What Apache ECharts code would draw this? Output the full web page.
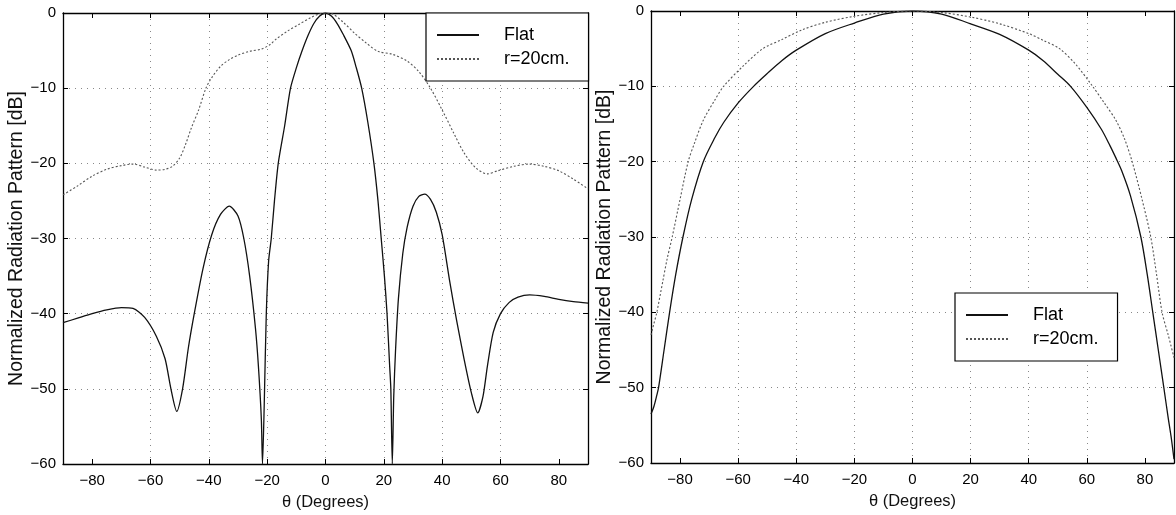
<!DOCTYPE html>
<html>
<head>
<meta charset="utf-8">
<script src="https://cdn.jsdelivr.net/npm/echarts@6/dist/echarts.min.js"></script>
<style>
  html, body { margin: 0; padding: 0; background: #fff; }
  #main { width: 1176px; height: 515px; }
</style>
</head>
<body>
<div id="main"></div>
<script>
// left panel: angle (deg) and normalized pattern (dB)
var leftFlatAng = [-90, -85, -80, -75, -70, -66, -62, -58, -55, -53, -51, -49, -47, -45, -42, -39, -36, -33, -30, -28, -26, -24, -23, -22, -21.6,
  -21, -20.3, -19.5, -18.6, -17.5, -16.2, -14, -12, -10, -8, -6, -4, -2, 0, 2, 4, 6, 8.8, 10.5, 12.4, 14.5, 16.6, 18, 19.1, 20.2, 21.1, 22, 22.4,
  22.9, 23.4, 24, 25, 26.5, 28, 30, 32, 34, 36, 38, 40, 42.5, 45, 47.5, 50, 52.2, 54, 55.5, 57.5, 60, 63, 66, 70, 75, 80, 85, 90];
var leftFlat = [-41.2, -40.6, -40.0, -39.5, -39.2, -39.3, -40.5, -43, -46, -50, -53, -50, -44.5, -40, -34, -29.5, -26.8, -25.7, -27, -30, -35, -42, -47, -54, -60,
  -52, -40, -33, -30, -25, -20, -15, -10, -7.3, -5, -3, -1.4, -0.4, 0, -0.4, -1.4, -2.8, -5, -7.2, -10, -14.5, -20, -25, -30, -35, -40, -47, -50,
  -60, -51, -45, -38, -32, -28.5, -25.7, -24.4, -24.1, -24.8, -26.5, -29.5, -35.5, -41, -46, -50.5, -53.2, -51, -47, -42.5, -40, -38.5, -37.8, -37.5, -37.7, -38.1, -38.4, -38.6];

var leftRAng = [-90, -85, -80, -75, -70, -66, -62, -58, -55, -52.5, -50, -48, -46, -43.5, -41, -39, -36, -33, -30, -26, -22, -19, -17, -13, -9, -5, -2, 0,
  2.3, 6, 10, 14, 18, 23, 28, 32, 36, 40, 44, 47.5, 51.5, 55.5, 59, 64.5, 70, 75, 80, 85, 90];
var leftR = [-24.2, -23, -21.7, -20.8, -20.3, -20.1, -20.5, -20.9, -20.8, -20.4, -19.3, -17.5, -15.3, -12.9, -10, -8.6, -7.1, -6.2, -5.6, -5.1, -4.8, -4.2, -3.5, -2.4, -1.5, -0.6, -0.1, 0,
  -0.1, -1.2, -2.7, -4, -5.1, -5.5, -6.4, -7.8, -10, -12.9, -16, -18.6, -20.6, -21.4, -21, -20.4, -20.1, -20.4, -21, -22.1, -23.4];

// right panel
var rightFlatAng = [-90, -89, -88, -87.4, -85.5, -83.6, -81.5, -79, -76, -72, -68, -65, -60, -54.7, -50, -45, -40, -30, -20, -10, 0,
  10, 20, 30, 40, 45, 50, 54.4, 60, 65, 68, 70, 72, 75, 78.6, 80.8, 82.7, 84.6, 86.5, 88, 89, 90];
var rightFlat = [-53.5, -52.5, -51, -50, -45, -40, -35, -30, -25, -20, -16.8, -14.8, -12.2, -10, -8.3, -6.6, -5.2, -3, -1.6, -0.4, 0,
  -0.4, -1.7, -3.1, -5.2, -6.6, -8.4, -10, -12.8, -15.7, -17.9, -19.5, -21.2, -24.5, -30, -35, -40, -45, -50, -54, -56.5, -59.5];

var rightRAng = [-90, -89, -88, -86, -84.5, -82.7, -80, -77.2, -75, -72, -68, -65, -58, -51.5, -45, -38, -30, -20, -10, 0,
  10, 20, 30, 40, 45, 50.6, 56, 62, 66, 70, 73, 75.6, 79, 82, 84, 85.9, 88, 89, 90];
var rightR = [-43, -41.5, -40, -36, -33, -30, -25, -20, -17.5, -14.5, -11.8, -10, -7.2, -5, -3.8, -2.5, -1.5, -0.7, -0.2, 0,
  -0.2, -0.8, -1.7, -3, -3.9, -5, -7, -10, -12.2, -14.5, -17, -20, -25, -30, -35, -40, -43, -44.5, -46];

var xTicks = [-80, -60, -40, -20, 0, 20, 40, 60, 80];

function pairs(a, v) {
  var res = [];
  for (var i = 0; i < a.length; i++) res.push([a[i], v[i]]);
  return res;
}

var myChart = echarts.init(document.getElementById("main"));
var font = "Liberation Sans";
function minus(v) { return String(v).replace("-", "\u2212"); }

function xAx(gi, pos, labels) {
  return {
    type: "value", gridIndex: gi, position: pos, min: -90, max: 90, interval: 10,
    name: labels ? "\u03b8 (Degrees)" : "", nameLocation: "middle", nameGap: 30,
    nameTextStyle: { color: "#111", fontSize: 16.5, fontFamily: font },
    axisLine: { onZero: false, lineStyle: { color: "#000", width: 1.3 } },
    axisTick: { show: true, inside: true, length: 5, lineStyle: { color: "#000" },
      customValues: xTicks },
    axisLabel: { show: labels, color: "#000", fontSize: 15, fontFamily: font, margin: 9,
      customValues: xTicks, formatter: minus },
    splitLine: { show: labels, showMinLine: false, showMaxLine: false,
      lineStyle: { color: "#888", type: [1, 5], width: 1 } }
  };
}
function yAx(gi, pos, labels) {
  return {
    type: "value", gridIndex: gi, position: pos, min: -60, max: 0, interval: 10,
    name: labels ? "Normalized Radiation Pattern [dB]" : "", nameLocation: "middle", nameGap: 34,
    nameTextStyle: { color: "#111", fontSize: 19.5, fontFamily: font },
    axisLine: { onZero: false, lineStyle: { color: "#000", width: 1.3 } },
    axisTick: { show: true, inside: true, length: 5, lineStyle: { color: "#000" } },
    axisLabel: { show: labels, color: "#000", fontSize: 15, fontFamily: font, margin: 7, formatter: minus },
    splitLine: { show: labels, showMinLine: false, showMaxLine: false,
      lineStyle: { color: "#888", type: [1, 5], width: 1 } }
  };
}

function legendBox(left, top) {
  return {
    left: left, top: top, orient: "vertical",
    data: ["Flat", "r=20cm."],
    backgroundColor: "#fff", borderColor: "#000", borderWidth: 1.2,
    padding: [13, 19, 13, 10], itemGap: 6,
    itemWidth: 42, itemHeight: 10,
    itemStyle: { opacity: 0 },
    textStyle: { color: "#000", fontSize: 18, fontFamily: font, padding: [0, 0, 0, 20] }
  };
}

var flatStyle = { color: "#111", width: 1.3, type: "solid" };
var rStyle = { color: "#555", width: 1.1, type: [2, 2] };

option = {
  animation: false,
  backgroundColor: "#fff",
  grid: [
    { left: 63, top: 13, width: 525, height: 451, outerBoundsMode: "none", containLabel: false },
    { left: 651, top: 11, width: 523, height: 452, outerBoundsMode: "none", containLabel: false }
  ],
  xAxis: [xAx(0, "bottom", true), xAx(0, "top", false), xAx(1, "bottom", true), xAx(1, "top", false)],
  yAxis: [yAx(0, "left", true), yAx(0, "right", false), yAx(1, "left", true), yAx(1, "right", false)],
  legend: [legendBox(426, 13), legendBox(955, 293)],
  series: [
    { name: "Flat", type: "line", xAxisIndex: 0, yAxisIndex: 0, data: pairs(leftFlatAng, leftFlat),
      symbol: "none", smooth: 0.25, lineStyle: flatStyle, itemStyle: { color: "#111" } },
    { name: "r=20cm.", type: "line", xAxisIndex: 0, yAxisIndex: 0, data: pairs(leftRAng, leftR),
      symbol: "none", smooth: 0.3, lineStyle: rStyle, itemStyle: { color: "#555" } },
    { name: "Flat", type: "line", xAxisIndex: 2, yAxisIndex: 2, data: pairs(rightFlatAng, rightFlat),
      symbol: "none", smooth: 0.3, lineStyle: flatStyle, itemStyle: { color: "#111" } },
    { name: "r=20cm.", type: "line", xAxisIndex: 2, yAxisIndex: 2, data: pairs(rightRAng, rightR),
      symbol: "none", smooth: 0.3, lineStyle: rStyle, itemStyle: { color: "#555" } }
  ]
};

myChart.setOption(option);
window.addEventListener("resize", function () {
  myChart.resize();
});
</script>
</body>
</html>
